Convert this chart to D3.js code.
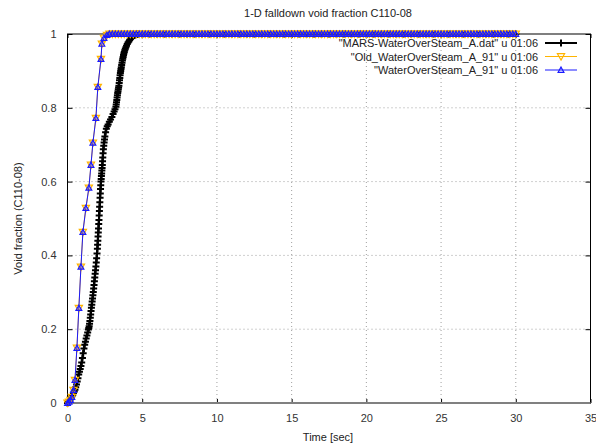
<!DOCTYPE html>
<html>
<head>
<meta charset="utf-8">
<script src="https://cdn.jsdelivr.net/npm/d3@7"></script>
<style>
  body { margin: 0; background: #fff; }
  svg { font-family: "Liberation Sans", Arial, sans-serif; }
</style>
</head>
<body>
<div id="chart"></div>
<script>
// axis ticks
const xTicks = [0, 5, 10, 15, 20, 25, 30, 35];
const yTicks = [0, 0.2, 0.4, 0.6, 0.8, 1];

// "MARS-WaterOverSteam_A.dat" u 01:06
const marsTime = [
  0, 0.05, 0.1, 0.15, 0.2, 0.25, 0.3, 0.35, 0.4, 0.45, 0.5, 0.55, 0.6, 0.65, 0.7, 0.75,
  0.8, 0.85, 0.9, 0.95, 1, 1.05, 1.1, 1.15, 1.2, 1.25, 1.3, 1.35,
  1.4, 1.425, 1.45, 1.475, 1.5, 1.525, 1.55, 1.575, 1.6, 1.625, 1.65, 1.675, 1.7, 1.725, 1.75, 1.775,
  1.8, 1.825, 1.85, 1.875, 1.9, 1.925, 1.95, 1.975, 2, 2.015, 2.03, 2.045, 2.06, 2.075, 2.09, 2.105,
  2.12, 2.135, 2.15, 2.165, 2.18, 2.195, 2.21, 2.225, 2.24, 2.255, 2.27, 2.285, 2.3, 2.315, 2.33, 2.345,
  2.36, 2.38, 2.4, 2.425, 2.45, 2.475, 2.5, 2.55, 2.6, 2.66, 2.72, 2.8, 2.88, 2.97, 3.05, 3.12, 3.18,
  3.24, 3.26, 3.28, 3.3, 3.32, 3.34, 3.36, 3.38, 3.4, 3.42, 3.44, 3.46, 3.48, 3.5, 3.52, 3.54, 3.56, 3.58,
  3.6, 3.625, 3.65, 3.675, 3.7, 3.725, 3.75, 3.775, 3.8, 3.835, 3.87, 3.91, 3.95, 4, 4.05, 4.1, 4.15, 4.2,
  4.25, 4.3, 4.35, 4.4, 4.45, 4.5, 4.55, 4.6, 4.65, 4.7, 4.75,
  5, 5.5, 6, 6.5, 7, 7.5, 8, 8.5, 9, 9.5, 10, 10.5, 11, 11.5, 12, 12.5, 13, 13.5, 14, 14.5,
  15, 15.5, 16, 16.5, 17, 17.5, 18, 18.5, 19, 19.5, 20, 20.5, 21, 21.5, 22, 22.5, 23, 23.5,
  24, 24.5, 25, 25.5, 26, 26.5, 27, 27.5, 28, 28.5, 29, 29.5, 30
];
const marsVoid = [
  0, 0.002, 0.004, 0.007, 0.01, 0.014, 0.018, 0.022, 0.027, 0.031, 0.036, 0.043, 0.05, 0.058, 0.067, 0.077,
  0.085, 0.092, 0.1, 0.11, 0.122, 0.135, 0.148, 0.158, 0.166, 0.175, 0.183, 0.191,
  0.199, 0.203, 0.208, 0.215, 0.222, 0.231, 0.24, 0.249, 0.258, 0.266, 0.275, 0.283, 0.292, 0.301, 0.31, 0.32,
  0.33, 0.34, 0.35, 0.36, 0.37, 0.381, 0.392, 0.405, 0.418, 0.429, 0.44, 0.451, 0.462, 0.473, 0.485, 0.496,
  0.508, 0.52, 0.532, 0.544, 0.556, 0.568, 0.58, 0.59, 0.6, 0.607, 0.615, 0.622, 0.63, 0.637, 0.645, 0.655,
  0.665, 0.677, 0.688, 0.697, 0.706, 0.714, 0.722, 0.734, 0.743, 0.75, 0.755, 0.762, 0.768, 0.775, 0.783, 0.79, 0.796,
  0.803, 0.809, 0.815, 0.821, 0.828, 0.834, 0.84, 0.845, 0.85, 0.855, 0.86, 0.867, 0.875, 0.881, 0.888, 0.894, 0.9, 0.905,
  0.91, 0.916, 0.922, 0.928, 0.933, 0.938, 0.943, 0.947, 0.951, 0.956, 0.96, 0.964, 0.968, 0.973, 0.977, 0.98, 0.983, 0.986,
  0.989, 0.991, 0.993, 0.995, 0.996, 0.997, 0.998, 0.999, 0.999, 1, 1,
  1, 1, 1, 1, 1, 1, 1, 1, 1, 1, 1, 1, 1, 1, 1, 1, 1, 1, 1, 1,
  1, 1, 1, 1, 1, 1, 1, 1, 1, 1, 1, 1, 1, 1, 1, 1, 1, 1,
  1, 1, 1, 1, 1, 1, 1, 1, 1, 1, 1, 1, 1
];

// "Old_WaterOverSteam_A_91" u 01:06 and "WaterOverSteam_A_91" u 01:06 (rise part)
const oldTime = [0, 0.1, 0.2, 0.29, 0.4, 0.5, 0.63, 0.76, 0.9, 1.03, 1.23, 1.43, 1.57, 1.7, 1.9, 2.03, 2.24, 2.3, 2.44, 2.64];
const oldVoid = [0, 0.003, 0.008, 0.016, 0.035, 0.062, 0.149, 0.257, 0.369, 0.463, 0.528, 0.583, 0.645, 0.705, 0.772, 0.856, 0.932, 0.973, 0.989, 0.997];
const wosTime = [0, 0.1, 0.2, 0.29, 0.4, 0.5, 0.63, 0.76, 0.9, 1.03, 1.23, 1.43, 1.57, 1.7, 1.9, 2.03, 2.24, 2.3, 2.44, 2.64];
const wosVoid = [0, 0.003, 0.008, 0.016, 0.035, 0.062, 0.149, 0.257, 0.369, 0.463, 0.528, 0.583, 0.645, 0.705, 0.772, 0.856, 0.932, 0.973, 0.989, 0.997];

// both A_91 runs sit at void fraction 1 after the rise
const plateauVoid = 1;
const plateauTime = [
  2.8, 3, 3.2, 3.4, 3.6, 3.8, 4, 4.2, 4.4, 4.6, 4.8, 5, 5.2, 5.4, 5.6, 5.8, 6, 6.2, 6.4, 6.6, 6.8,
  7, 7.2, 7.4, 7.6, 7.8, 8, 8.2, 8.4, 8.6, 8.8, 9, 9.2, 9.4, 9.6, 9.8, 10, 10.2, 10.4, 10.6, 10.8,
  11, 11.2, 11.4, 11.6, 11.8, 12, 12.2, 12.4, 12.6, 12.8, 13, 13.2, 13.4, 13.6, 13.8, 14, 14.2, 14.4, 14.6, 14.8,
  15, 15.2, 15.4, 15.6, 15.8, 16, 16.2, 16.4, 16.6, 16.8, 17, 17.2, 17.4, 17.6, 17.8, 18, 18.2, 18.4, 18.6, 18.8,
  19, 19.2, 19.4, 19.6, 19.8, 20, 20.2, 20.4, 20.6, 20.8, 21, 21.2, 21.4, 21.6, 21.8, 22, 22.2, 22.4, 22.6, 22.8,
  23, 23.2, 23.4, 23.6, 23.8, 24, 24.2, 24.4, 24.6, 24.8, 25, 25.2, 25.4, 25.6, 25.8, 26, 26.2, 26.4, 26.6, 26.8,
  27, 27.2, 27.4, 27.6, 27.8, 28, 28.2, 28.4, 28.6, 28.8, 29, 29.2, 29.4, 29.6, 29.8, 30
];

const seriesNames = [
  '"MARS-WaterOverSteam_A.dat" u 01:06',
  '"Old_WaterOverSteam_A_91" u 01:06',
  '"WaterOverSteam_A_91" u 01:06'
];

const width = 596, height = 444;
const margin = { top: 34, right: 5.5, bottom: 41, left: 67.5 };

const x = d3.scaleLinear().domain([0, 35]).range([margin.left, width - margin.right]);
const y = d3.scaleLinear().domain([0, 1]).range([height - margin.bottom, margin.top]);

const svg = d3.select("#chart")
  .append("svg")
  .attr("width", width)
  .attr("height", height);

// grid
svg.append("g")
  .selectAll("line")
  .data(xTicks.slice(1, -1))
  .join("line")
  .attr("x1", d => x(d)).attr("x2", d => x(d))
  .attr("y1", y(0)).attr("y2", y(1))
  .attr("stroke", "#a0a0a0")
  .attr("stroke-dasharray", "1,3");

svg.append("g")
  .selectAll("line")
  .data(yTicks.slice(1, -1))
  .join("line")
  .attr("x1", x(0)).attr("x2", x(35))
  .attr("y1", d => y(d)).attr("y2", d => y(d))
  .attr("stroke", "#a0a0a0")
  .attr("stroke-dasharray", "1,3");

// axes with inward ticks, mirrored on top/right
const tickFmt = d3.format("");
svg.append("g")
  .attr("transform", `translate(0,${y(0)})`)
  .call(d3.axisBottom(x).tickValues(xTicks).tickSize(-4).tickPadding(11).tickFormat(tickFmt))
  .call(g => g.select(".domain").remove());
svg.append("g")
  .attr("transform", `translate(0,${y(1)})`)
  .call(d3.axisTop(x).tickValues(xTicks).tickSize(-4).tickFormat(""))
  .call(g => g.select(".domain").remove());
svg.append("g")
  .attr("transform", `translate(${x(0)},0)`)
  .call(d3.axisLeft(y).tickValues(yTicks).tickSize(-5).tickPadding(11).tickFormat(tickFmt))
  .call(g => g.select(".domain").remove());
svg.append("g")
  .attr("transform", `translate(${x(35)},0)`)
  .call(d3.axisRight(y).tickValues(yTicks).tickSize(-5).tickFormat(""))
  .call(g => g.select(".domain").remove());

svg.selectAll(".tick text").attr("font-size", 11).attr("fill", "#333").attr("font-family", null);
svg.selectAll(".tick line").attr("stroke", "#000");

// border
svg.append("rect")
  .attr("x", x(0)).attr("y", y(1))
  .attr("width", x(35) - x(0)).attr("height", y(0) - y(1))
  .attr("fill", "none")
  .attr("stroke", "#000");
svg.append("line")
  .attr("x1", x(0)).attr("x2", x(35))
  .attr("y1", y(0)).attr("y2", y(0))
  .attr("stroke", "#808080")
  .attr("stroke-width", 2);

// titles
svg.append("text")
  .attr("x", 328).attr("y", 17)
  .attr("text-anchor", "middle")
  .attr("font-size", 11)
  .attr("fill", "#222")
  .text("1-D falldown void fraction C110-08");
svg.append("text")
  .attr("x", 328).attr("y", 441)
  .attr("text-anchor", "middle")
  .attr("font-size", 11)
  .attr("fill", "#222")
  .text("Time [sec]");
svg.append("text")
  .attr("transform", `translate(22,${(y(0) + y(1)) / 2}) rotate(-90)`)
  .attr("text-anchor", "middle")
  .attr("font-size", 11)
  .attr("fill", "#222")
  .text("Void fraction (C110-08)");

// series
const mars = marsTime.map((t, i) => ({ t, v: marsVoid[i] }));
const old = oldTime.map((t, i) => ({ t, v: oldVoid[i] }))
  .concat(plateauTime.map(t => ({ t, v: plateauVoid })));
const wos = wosTime.map((t, i) => ({ t, v: wosVoid[i] }))
  .concat(plateauTime.map(t => ({ t, v: plateauVoid })));

const line = d3.line().x(d => x(d.t)).y(d => y(d.v));

const plusPath = "M-3.5,0H3.5M0,-3.5V3.5";
const triUp = "M0,-2.9L2.9,2.3L-2.9,2.3Z";
const triDown = "M0,3.6L3.6,-2.8L-3.6,-2.8Z";

const series = [
  { data: mars, color: "#000", lw: 2, marker: plusPath, mw: 2 },
  { data: old, color: "#ffb400", lw: 1, marker: triDown, mw: 1.2 },
  { data: wos, color: "#1a1aff", lw: 1, marker: triUp, mw: 1.2 }
];

series.forEach(s => {
  const g = svg.append("g");
  g.append("path")
    .datum(s.data)
    .attr("d", line)
    .attr("fill", "none")
    .attr("stroke", s.color)
    .attr("stroke-width", s.lw);
  g.selectAll("path.m")
    .data(s.data)
    .join("path")
    .attr("class", "m")
    .attr("d", s.marker)
    .attr("transform", d => `translate(${x(d.t)},${y(d.v)})`)
    .attr("fill", "none")
    .attr("stroke", s.color)
    .attr("stroke-width", s.mw);
});

// legend
const legend = svg.append("g");
const legendRows = [47, 60.5, 74];
series.forEach((s, i) => {
  const ly = legendRows[i];
  legend.append("text")
    .attr("x", 538).attr("y", ly)
    .attr("text-anchor", "end")
    .attr("font-size", 11)
    .attr("fill", "#222")
    .text(seriesNames[i]);
  legend.append("line")
    .attr("x1", 545).attr("x2", 577)
    .attr("y1", ly - 4).attr("y2", ly - 4)
    .attr("stroke", s.color)
    .attr("stroke-width", s.lw);
  legend.append("path")
    .attr("d", s.marker)
    .attr("transform", `translate(561,${ly - 4})`)
    .attr("fill", "none")
    .attr("stroke", s.color)
    .attr("stroke-width", s.mw);
});
</script>
</body>
</html>
